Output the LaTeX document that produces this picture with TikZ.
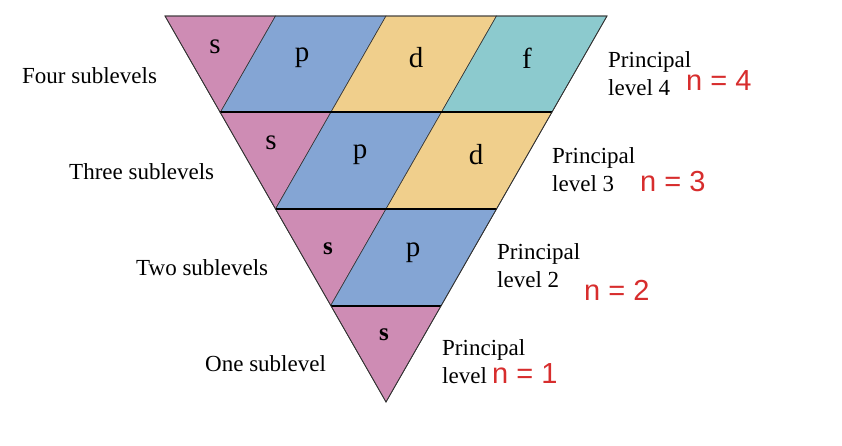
\documentclass[tikz,border=0pt]{standalone}
\usepackage{fontspec}
\setmainfont{Liberation Serif}
\newfontfamily\nfont{Liberation Sans}
\definecolor{cs}{RGB}{206,140,180}
\definecolor{cp}{RGB}{132,165,212}
\definecolor{cd}{RGB}{240,207,140}
\definecolor{cf}{RGB}{140,202,206}
\definecolor{nred}{RGB}{215,45,45}
\tikzset{x=1pt,y=-1pt,
 cell/.style={draw=black!80,line width=0.6pt},
 let/.style={font=\fontsize{29}{29}\selectfont},
 side/.style={font=\fontsize{23}{26}\selectfont,anchor=west,inner sep=0pt},
 lab/.style={font=\fontsize{23}{28}\selectfont,align=left,anchor=west,inner sep=0pt},
 nlab/.style={font=\nfont\fontsize{29}{29}\selectfont,text=nred,anchor=west,inner sep=0pt}}
\begin{document}
\begin{tikzpicture}
\useasboundingbox (0,0) rectangle (842,446);
\def\w{110.5}\def\h{96.5}\def\hw{55.25}
\foreach \k/\n in {0/3,1/2,2/1,3/0}{
 \pgfmathsetmacro\xk{165+\k*\hw}
 \pgfmathsetmacro\yk{16+\k*\h}
 \fill[cs,cell] (\xk,\yk) -- ++(\w,0) -- ++(-\hw,\h) -- cycle;
 \ifnum\k<3\relax
 \foreach \j in {1,...,\n}{
  \pgfmathsetmacro\xa{\xk+\w*\j}
  \pgfmathsetmacro\col{ifthenelse(\j==1,"cp",ifthenelse(\j==2,"cd","cf"))}
  \fill[\col,cell] (\xa,\yk) -- ++(\w,0) -- ++(-\hw,\h) -- ++(-\w,0) -- cycle;
 }\fi
}
\foreach \k in {1,2,3}{\pgfmathsetmacro\yy{16+\k*96.5}
 \draw[line width=2pt] (165+\k*55.25,\yy) -- (607-\k*55.25,\yy);}
\draw[black!80,line width=0.8pt] (165,16) -- (607,16) -- (386,402) -- cycle;
% letters
\node[let] (s1) at (215,47) {s};
\node[let] (p1) at (302,58) {p};
\node[let] (d1) at (416,58) {d};
\node[let] (f1) at (527,58) {f};
\node[let] (s2) at (271,143) {s};
\node[let] (p2) at (360,155) {p};
\node[let] (d2) at (476,155) {d};
\node[let,font=\bfseries\fontsize{25}{25}\selectfont] (s3) at (328,249) {s};
\node[let] (p3) at (413,253) {p};
\node[let,font=\bfseries\fontsize{25}{25}\selectfont] (s4) at (384,335) {s};
% side labels
\node[side] (l4) at (22,76) {Four sublevels};
\node[side] (l3) at (69,172) {Three sublevels};
\node[side] (l2) at (136,268) {Two sublevels};
\node[side] (l1) at (205,364) {One sublevel};
\node[lab] (P4) at (608,74) {Principal\\level 4};
\node[lab] (P3) at (552,170) {Principal\\level 3};
\node[lab] (P2) at (497,266) {Principal\\level 2};
\node[lab] (P1) at (442,362) {Principal\\level};
\node[nlab] (n4) at (686,81) {n = 4};
\node[nlab] (n3) at (640,182) {n = 3};
\node[nlab] (n2) at (584,290) {n = 2};
\node[nlab] (n1) at (492,374) {n = 1};
\end{tikzpicture}
\end{document}
